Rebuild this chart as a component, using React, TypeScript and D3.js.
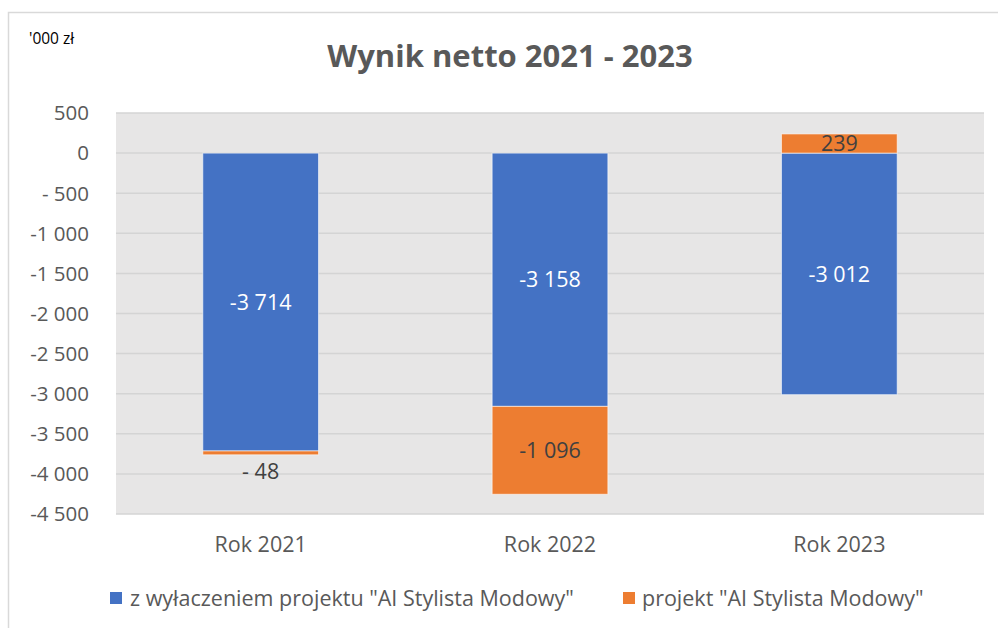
import React from "react";
import * as d3 from "d3";

const categories = ["Rok 2021", "Rok 2022", "Rok 2023"];
const seriesNames = ['z wyłaczeniem projektu "AI Stylista Modowy"', 'projekt "AI Stylista Modowy"'];
const excludingProject = [-3714, -3158, -3012];
const project = [-48, -1096, 239];
const excludingLabels = ["-3 714", "-3 158", "-3 012"];
const projectLabels = ["- 48", "-1 096", "239"];
const yTicks = [500, 0, -500, -1000, -1500, -2000, -2500, -3000, -3500, -4000, -4500];
const yTickLabels = ["500", "0", "- 500", "-1 000", "-1 500", "-2 000", "-2 500", "-3 000", "-3 500", "-4 000", "-4 500"];
const colors = ["#4472C4", "#ED7D31"];
const labelColors = ["#FFFFFF", "#404040"];

const W = 998;
const H = 628;
const FONT = "'Open Sans', 'Noto Sans', sans-serif";

export default function App() {
  const plot = { left: 116, right: 984, top: 113, bottom: 514 };
  const x = d3.scaleBand<string>().domain(categories).range([plot.left, plot.right]).paddingInner(0.6).paddingOuter(0.3);
  const y = d3.scaleLinear().domain([-4500, 500]).range([plot.bottom, plot.top]);

  const rows = categories.map((c, i) => ({ cat: c, a: excludingProject[i], b: project[i] }));
  const stack = d3.stack<any>().keys(["a", "b"]).offset(d3.stackOffsetDiverging);
  const stacked = stack(rows);
  const allLabels = [excludingLabels, projectLabels];

  return (
    <svg width={W} height={H} style={{ position: "absolute", left: 0, top: 0, background: "#fff" }} fontFamily={FONT}>
      <rect x={8.5} y={12.5} width={1100} height={700} fill="#fff" stroke="#D9D9D9" strokeWidth={1.5} />
      <text x={29} y={44} fontSize={15.5} fill="#000">'000 zł</text>
      <text x={510} y={67} textAnchor="middle" fontSize={31} fontWeight="bold" fill="#595959">Wynik netto 2021 - 2023</text>
      <rect x={plot.left} y={plot.top} width={plot.right - plot.left} height={plot.bottom - plot.top} fill="#E7E6E6" />
      {yTicks.map((t, i) => (
        <g key={t}>
          <line x1={plot.left} x2={plot.right} y1={y(t)} y2={y(t)} stroke="#D4D4D4" strokeWidth={1.5} />
          <text x={89} y={y(t)} dy="0.36em" textAnchor="end" fontSize={20.5} fill="#595959">{yTickLabels[i]}</text>
        </g>
      ))}
      {stacked.map((s, si) => (
        <g key={si}>
          {s.map((d, i) => {
            const y0 = y(Math.max(d[0], d[1]));
            const y1 = y(Math.min(d[0], d[1]));
            const bx = x(categories[i])!;
            return (
              <rect key={i} x={bx} y={y0} width={x.bandwidth()} height={y1 - y0} fill={colors[si]} stroke="#FFFFFF" strokeOpacity={0.6} strokeWidth={1} />
            );
          })}
        </g>
      ))}
      {stacked.map((s, si) => (
        <g key={"l" + si}>
          {s.map((d, i) => {
            const y0 = y(Math.max(d[0], d[1]));
            const y1 = y(Math.min(d[0], d[1]));
            const h = y1 - y0;
            const cx = x(categories[i])! + x.bandwidth() / 2;
            const val = si === 0 ? excludingProject[i] : project[i];
            let ly = (y0 + y1) / 2;
            let fill = labelColors[si];
            if (h < 18) {
              ly = val < 0 ? y1 + 16 : y0 - 16;
              fill = "#404040";
            }
            return (
              <text key={i} x={cx} y={ly} dy="0.36em" textAnchor="middle" fontSize={21.5} fill={fill}>{allLabels[si][i]}</text>
            );
          })}
        </g>
      ))}
      {categories.map((c) => (
        <text key={c} x={x(c)! + x.bandwidth() / 2} y={552} textAnchor="middle" fontSize={21.5} fill="#595959">{c}</text>
      ))}
      <g>
        <rect x={110} y={592} width={12} height={12} fill={colors[0]} />
        <text x={130} y={606} fontSize={21.5} fill="#595959">{seriesNames[0]}</text>
        <rect x={623} y={592} width={12} height={12} fill={colors[1]} />
        <text x={642} y={606} fontSize={21.5} fill="#595959">{seriesNames[1]}</text>
      </g>
    </svg>
  );
}
